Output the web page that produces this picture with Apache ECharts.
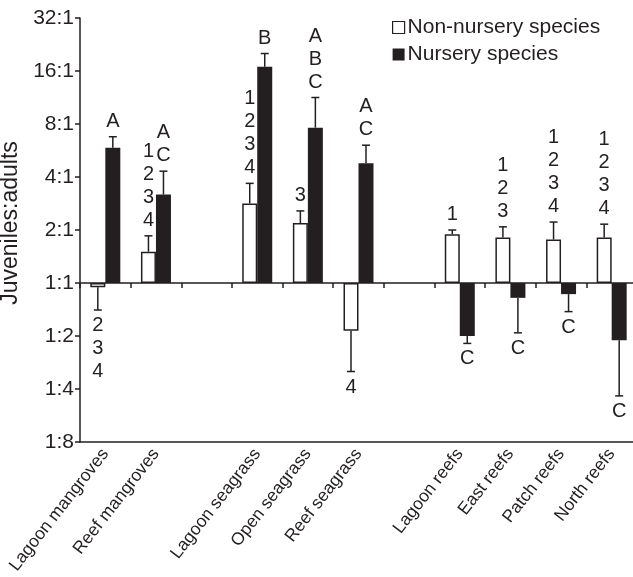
<!DOCTYPE html>
<html>
<head>
<meta charset="utf-8">
<script src="https://cdn.jsdelivr.net/npm/echarts@6/dist/echarts.min.js"></script>
<style>
  html, body { margin: 0; padding: 0; background: #fff; }
  #chart { width: 633px; height: 577px; }
</style>
</head>
<body>
<div id="chart"></div>
<script>
// log2 of juveniles:adults ratio; blank slots separate the habitat groups
const categories = ['Lagoon mangroves', 'Reef mangroves', ' ', 'Lagoon seagrass', 'Open seagrass', 'Reef seagrass', '  ', 'Lagoon reefs', 'East reefs', 'Patch reefs', 'North reefs']
const nonNursery = [-0.08, 0.59, null, 1.50, 1.13, -0.90, null, 0.92, 0.86, 0.82, 0.86]
const nonNurseryErr = [-0.51, 0.89, null, 1.88, 1.36, -1.67, null, 1.00, 1.06, 1.15, 1.11]
const nursery = [2.55, 1.67, null, 4.08, 2.93, 2.26, null, -1.00, -0.28, -0.21, -1.08]
const nurseryErr = [2.76, 2.11, null, 4.33, 3.50, 2.60, null, -1.14, -0.94, -0.54, -2.13]
const nonNurseryLetters = ['2\n3\n4', '1\n2\n3\n4', '', '1\n2\n3\n4', '3', '4', '', '1', '1\n2\n3', '1\n2\n3\n4', '1\n2\n3\n4']
const nurseryLetters = ['A', 'A\nC', '', 'B', 'A\nB\nC', 'A\nC', '', 'C', 'C', 'C', 'C']
const yTickLabels = ['1:8', '1:4', '1:2', '1:1', '2:1', '4:1', '8:1', '16:1', '32:1']

const ink = '#231f20'
const font = 'Liberation Sans, Arial, sans-serif'
const barW = 15

function errData(vals, errs) {
  const out = []
  vals.forEach((v, i) => {
    if (v !== null) out.push([i, v, errs[i]])
  })
  return out
}

function errRenderer(letters, offset) {
  return function (params, api) {
    const i = api.value(0)
    const base = api.coord([i, api.value(1)])
    const end = api.coord([i, api.value(2)])
    const x = base[0] + offset
    const up = end[1] < base[1]
    const txt = letters[i]
    return {
      type: 'group',
      children: [
        { type: 'line', shape: { x1: x, y1: base[1], x2: x, y2: end[1] }, style: { stroke: ink, lineWidth: 1.5 } },
        { type: 'line', shape: { x1: x - 4, y1: end[1], x2: x + 4, y2: end[1] }, style: { stroke: ink, lineWidth: 1.5 } },
        {
          type: 'text',
          style: {
            text: txt, x: x, y: up ? end[1] - 4 : end[1] + 4,
            align: 'center', verticalAlign: up ? 'bottom' : 'top',
            font: '20px ' + font, lineHeight: 23, fill: ink
          }
        }
      ]
    }
  }
}

const option = {
  animation: false,
  textStyle: { fontFamily: font, color: ink },
  grid: { left: 80, top: 18, width: 557, height: 424, outerBoundsMode: 'none' },
  legend: {
    orient: 'vertical',
    left: 387,
    top: 12,
    itemWidth: 12,
    itemHeight: 12,
    itemGap: 6,
    icon: 'rect',
    textStyle: { fontSize: 21, color: ink, padding: [0, 0, 0, -2] },
    data: [
      { name: 'Non-nursery species', itemStyle: { color: '#fff', borderColor: ink, borderWidth: 1.2 } },
      { name: 'Nursery species', itemStyle: { color: ink } }
    ]
  },
  xAxis: [
    {
      type: 'category',
      data: categories,
      axisLine: { onZero: false, lineStyle: { color: ink, width: 1.5 } },
      axisTick: { show: false },
      axisLabel: { interval: 0, rotate: 52, fontSize: 17.5, color: ink, margin: 9 }
    },
    {
      type: 'category',
      data: categories,
      axisLine: { onZero: true, lineStyle: { color: ink, width: 1.5 } },
      axisTick: { show: true, interval: 0, inside: true, length: 5, lineStyle: { color: ink, width: 1.5 } },
      axisLabel: { show: false, interval: 0 }
    }
  ],
  yAxis: {
    type: 'value',
    min: -3,
    max: 5,
    interval: 1,
    name: 'Juveniles:adults',
    nameLocation: 'middle',
    nameRotate: 90,
    nameGap: 52,
    nameTextStyle: { fontSize: 23, color: ink, padding: [0, 0, 0, 14] },
    splitLine: { show: false },
    axisLine: { show: true, lineStyle: { color: ink, width: 1.5 } },
    axisTick: { show: true, length: 5, lineStyle: { color: ink, width: 1.5 } },
    axisLabel: {
      fontSize: 21, color: ink, margin: 6,
      formatter: v => yTickLabels[v + 3]
    }
  },
  series: [
    {
      name: 'Non-nursery species',
      type: 'bar',
      barWidth: barW,
      barGap: '0%',
      data: nonNursery,
      itemStyle: { color: '#fff', borderColor: ink, borderWidth: 1.5 }
    },
    {
      name: 'Nursery species',
      type: 'bar',
      barWidth: barW,
      barGap: '0%',
      data: nursery,
      itemStyle: { color: ink }
    },
    {
      name: 'nonErr',
      type: 'custom',
      data: errData(nonNursery, nonNurseryErr),
      renderItem: errRenderer(nonNurseryLetters, -barW / 2),
      z: 3
    },
    {
      name: 'nurErr',
      type: 'custom',
      data: errData(nursery, nurseryErr),
      renderItem: errRenderer(nurseryLetters, barW / 2),
      z: 3
    }
  ]
}

const myChart = echarts.init(document.getElementById('chart'))
myChart.setOption(option)
</script>
</body>
</html>
